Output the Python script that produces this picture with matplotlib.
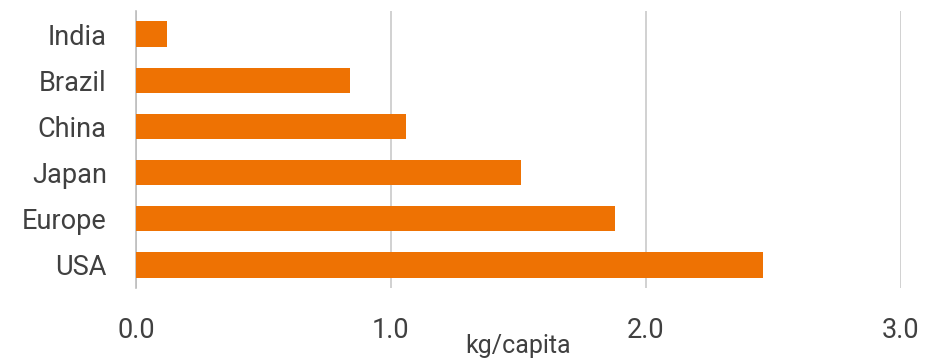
import matplotlib.pyplot as plt

countries = ['India', 'Brazil', 'China', 'Japan', 'Europe', 'USA']
values = [0.12, 0.84, 1.06, 1.51, 1.88, 2.46]
xticks = [0.0, 1.0, 2.0, 3.0]

plt.rcParams['font.family'] = ['Roboto', 'DejaVu Sans']

fig = plt.figure(figsize=(9.36, 3.6), dpi=100)
ax = fig.add_axes([136/936, 72/360, 765/936, 277/360])

ax.barh(countries, values, height=0.55, color='#ee7203', zorder=3)
ax.set_ylim(len(countries) - 0.5, -0.5)
ax.set_xlim(0, 3.0)
ax.set_xticks(xticks)
ax.set_xticklabels(['%.1f' % v for v in xticks])

ax.grid(axis='x', color='#c9c9c9', linewidth=1.2, zorder=0)
for s in ['top', 'right', 'bottom']:
    ax.spines[s].set_visible(False)
ax.spines['left'].set_color('#bdbdbd')
ax.spines['left'].set_linewidth(1.2)

ax.tick_params(axis='both', length=0, labelsize=19.5, labelcolor='#404040')
ax.tick_params(axis='x', pad=21)
ax.tick_params(axis='y', pad=21)
ax.set_xlabel('kg/capita', fontsize=18, color='#404040', labelpad=-7)

fig.savefig('out.png', dpi=100)
